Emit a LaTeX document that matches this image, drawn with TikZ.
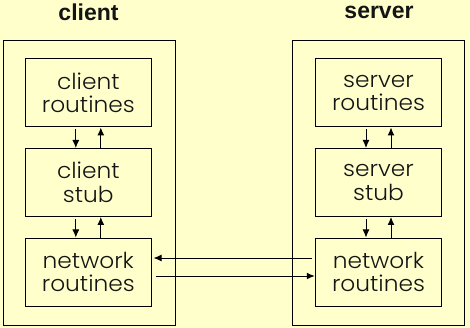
\documentclass[tikz,border=0pt]{standalone}
\usepackage{fontspec}
\setmainfont{Liberation Sans}
\newfontfamily\labelfont[FakeStretch=1.06]{Poppins Light}
\usetikzlibrary{arrows.meta}
\definecolor{bgyellow}{RGB}{255,255,204}
\definecolor{inkcol}{RGB}{20,20,20}
\begin{document}
\begin{tikzpicture}[x=1pt,y=-1pt,
  outerbox/.style={draw=black,line width=1pt,minimum width=172pt,minimum height=285pt,inner sep=0pt},
  innerbox/.style={draw=black,line width=1pt,minimum width=126.5pt,minimum height=68pt,inner sep=0pt,
    align=center,font=\labelfont\fontsize{22}{23.5}\selectfont,text=inkcol},
  titletext/.style={font=\bfseries\fontsize{23}{26}\selectfont,text=inkcol,inner sep=0pt},
  arr/.style={line width=1pt,-{Latex[length=8pt,width=7pt]}}
]
\fill[bgyellow] (0,0) rectangle (470,328);
\useasboundingbox (0,0) rectangle (470,328);
% titles
\node[titletext] (tc) at (88.5,12) {client};
\node[titletext] (ts) at (379,12) {server};
% outer boxes
\node[outerbox] (oc) at (89,183) {};
\node[outerbox] (os) at (378.6,183) {};
% client column
\node[innerbox] (cr) at (88.3,93) {client\\routines};
\node[innerbox] (cs) at (88.3,182.5) {client\\stub};
\node[innerbox] (cn) at (88.3,272) {network\\routines};
% server column
\node[innerbox] (sr) at (378.5,93) {server\\routines};
\node[innerbox] (ss) at (378.5,182.5) {server\\stub};
\node[innerbox] (sn) at (378.5,272) {network\\routines};
% vertical arrows
\foreach \a/\b in {cr/cs,cs/cn,sr/ss,ss/sn}{
  \draw[arr,shorten <=2pt] ([xshift=-12.5pt]\a.south) -- ([xshift=-12.5pt]\b.north);
  \draw[arr] ([xshift=12.5pt]\b.north) -- ([xshift=12.5pt]\a.south);
}
% horizontal arrows
\draw[arr,shorten <=3pt,shorten >=1.5pt] ([yshift=14pt]sn.west) -- ([yshift=14pt]cn.east);
\draw[arr,shorten <=3.5pt] ([yshift=-4pt]cn.east) -- ([yshift=-4pt]sn.west);
\end{tikzpicture}
\end{document}
